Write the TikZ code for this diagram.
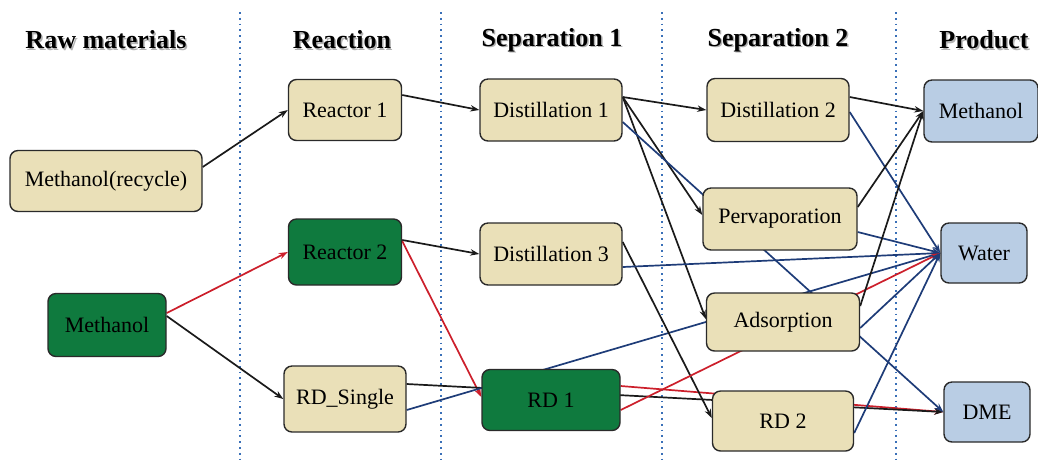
\documentclass[tikz,border=0pt]{standalone}
\usepackage{fontspec}
\setmainfont{Liberation Serif}
\usetikzlibrary{arrows.meta,backgrounds}

\definecolor{boxtan}{HTML}{EAE0B8}
\definecolor{boxgreen}{HTML}{0F7A3E}
\definecolor{boxblue}{HTML}{B9CDE4}
\definecolor{boxline}{HTML}{2A2A2A}
\definecolor{flowblack}{HTML}{1A1A1A}
\definecolor{flowblue}{HTML}{1E3C78}
\definecolor{flowred}{HTML}{CC1F2B}
\definecolor{divider}{HTML}{3A70B8}

\begin{document}
\begin{tikzpicture}[x=0.5pt,y=-0.5pt,
  box/.style={draw=boxline, line width=0.7pt, rounded corners=4pt,
    align=center, inner sep=0pt, text=black,
    font=\fontsize{11}{13}\selectfont},
  tanbox/.style={box, fill=boxtan},
  greenbox/.style={box, fill=boxgreen},
  bluebox/.style={box, fill=boxblue},
  head/.style={font=\fontsize{13}{15}\selectfont\bfseries, text=black},
  headshade/.style={font=\fontsize{13}{15}\selectfont\bfseries, text=black!30},
  flow/.style={line width=0.85pt, -{Stealth[length=4.5pt,width=3.2pt]}},
  blackflow/.style={flow, draw=flowblack, fill=flowblack},
  blueflow/.style={flow, draw=flowblue, fill=flowblue},
  redflow/.style={flow, draw=flowred, fill=flowred},
  divline/.style={draw=divider, line width=0.9pt, dotted}
]
\useasboundingbox (0,0) rectangle (1038,463);

% column headings with a soft drop shade
\foreach \name/\cx/\txt in {hraw/106/Raw materials, hrea/342/Reaction,
    hsep1/552/Separation 1, hsep2/778/Separation 2, hprod/984/Product}{
  \node[headshade] (\name s) at (\cx+1.5,41.5) {\txt};
  \node[head] (\name) at (\cx,40) {\txt};
}

% raw materials
\node[tanbox, minimum width=96pt, minimum height=30.5pt] (mr) at (106,181) {Methanol(recycle)};
\node[greenbox, minimum width=59pt, minimum height=31.5pt] (mg) at (107,325) {Methanol};

% reaction
\node[tanbox, minimum width=56.5pt, minimum height=30.5pt] (r1) at (345,110) {Reactor 1};
\node[greenbox, minimum width=56.5pt, minimum height=33pt] (r2) at (345,252) {Reactor 2};
\node[tanbox, minimum width=61pt, minimum height=33pt] (rds) at (345,399) {RD\_Single};

% separation 1
\node[tanbox, minimum width=71pt, minimum height=31pt] (d1) at (551,110) {Distillation 1};
\node[tanbox, minimum width=71pt, minimum height=31pt] (d3) at (551,254) {Distillation 3};
\node[greenbox, minimum width=69pt, minimum height=30.5pt] (rd1) at (551,400) {RD 1};

% separation 2
\node[tanbox, minimum width=71pt, minimum height=31.5pt] (d2) at (778,110) {Distillation 2};
\node[tanbox, minimum width=77pt, minimum height=31pt] (pv) at (780,219) {Pervaporation};
\node[tanbox, minimum width=76.5pt, minimum height=29pt] (ad) at (783,322) {Adsorption};
\node[tanbox, minimum width=70.5pt, minimum height=30pt] (rd2) at (783,421) {RD 2};

% products
\node[bluebox, minimum width=57pt, minimum height=31pt] (pm) at (981,111) {Methanol};
\node[bluebox, minimum width=43pt, minimum height=30pt] (pw) at (984,253) {Water};
\node[bluebox, minimum width=43pt, minimum height=30pt] (pd) at (987,412) {DME};

\begin{pgfonlayer}{background}
  % column dividers
  \foreach \dx in {240,441,662,896}
    \draw[divline] (\dx,12) -- (\dx,463);

  % raw materials -> reaction
  \draw[blackflow] ([yshift=7pt]mr.east) -- (r1.west);
  \draw[redflow]   ([yshift=6pt]mg.east) -- (r2.west);
  \draw[blackflow] ([yshift=4.5pt]mg.east) -- (rds.west);

  % reaction -> separation
  \draw[blackflow] ([yshift=7.5pt]r1.east) -- (d1.west);
  \draw[blackflow] ([yshift=6pt]r2.east) -- (d3.west);
  \draw[redflow]   ([yshift=5.5pt]r2.east) -- ([yshift=1.5pt]rd1.west);
  \draw[redflow]   ([yshift=7pt]rd1.east) -- (pd.west);
  \draw[blackflow] ([yshift=7.5pt]rds.east) -- (pd.west);
  \draw[blueflow]  ([yshift=-5.5pt]rds.east) -- (pw.west);

  % separation 1 outlets
  \draw[blackflow] ([yshift=6.5pt]d1.east) -- (d2.west);
  \draw[blackflow] ([yshift=6.5pt]d1.east) -- ([yshift=2pt]pv.west);
  \draw[blackflow] ([yshift=6.5pt]d1.east) -- ([yshift=1.5pt]ad.west);
  \draw[blueflow]  ([yshift=-6pt]d1.east) -- (pd.west);
  \draw[blackflow] ([yshift=6pt]d3.east) -- ([yshift=1.5pt]rd2.west);
  \draw[blueflow]  ([yshift=-6.5pt]d3.east) -- (pw.west);
  \draw[redflow]   ([yshift=-5pt]rd1.east) -- (pw.west);

  % separation 2 outlets
  \draw[blackflow] ([yshift=6.5pt]d2.east) -- (pm.west);
  \draw[blueflow]  ([yshift=-1pt]d2.east) -- (pw.west);
  \draw[blackflow] ([yshift=6pt]pv.east) -- (pm.west);
  \draw[blueflow]  ([yshift=-6.5pt]pv.east) -- (pw.west);
  \draw[blackflow] ([yshift=8pt]ad.east) -- (pm.west);
  \draw[blueflow]  ([yshift=-3pt]ad.east) -- (pw.west);
  \draw[blueflow]  ([yshift=-6pt]rd2.east) -- (pw.west);
\end{pgfonlayer}
\end{tikzpicture}
\end{document}
